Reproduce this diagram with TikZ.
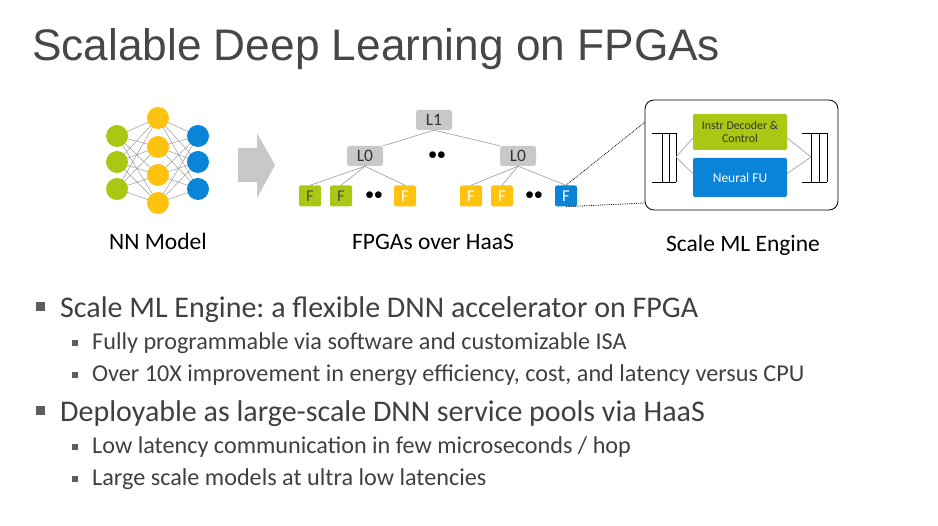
\documentclass[tikz,border=0pt]{standalone}
\usepackage{fontspec}
\setmainfont{Carlito}
\newfontfamily\titlefont{Liberation Sans}
\usetikzlibrary{backgrounds}
\frenchspacing
\definecolor{nngreen}{HTML}{A8C814}
\definecolor{nnyellow}{HTML}{FFC20E}
\definecolor{nnblue}{HTML}{0A84D6}
\definecolor{boxgray}{HTML}{C8C8C8}
\definecolor{textgray}{HTML}{404040}
\definecolor{linegray}{HTML}{9A9A9A}

\begin{document}
\begin{tikzpicture}[
  x=1pt, y=-1pt,
  every node/.style={inner sep=0pt, text=textgray},
  neuron/.style={circle, minimum size=22pt},
  switchbox/.style={rectangle, rounded corners=2.5pt, fill=boxgray, minimum width=36pt, minimum height=20pt, font=\fontsize{17.5}{17.5}\selectfont, text=black!80},
  fpga/.style={rectangle, rounded corners=2pt, minimum width=22pt, minimum height=21pt, font=\fontsize{16.5}{16.5}\selectfont},
  unitbox/.style={rectangle, rounded corners=2pt, minimum width=94pt, align=center, text=white},
  caption/.style={anchor=base, font=\fontsize{23.5}{23.5}\selectfont, text=black},
  dotpair/.style={text=black, font=\fontsize{19}{19}\selectfont},
  bullettext/.style={anchor=base west, text=textgray}
]
\useasboundingbox (0,0) rectangle (938,526);

% title:
\node[anchor=base west, font=\titlefont\fontsize{44.2}{44.2}\selectfont, text=black!72] (title) at (32,61) {Scalable Deep Learning on FPGAs};

% NN model:
\foreach \i/\y in {1/136, 2/162, 3/189} {
  \node[neuron, fill=nngreen] (g\i) at (117,\y) {};
  \node[neuron, fill=nnblue] (b\i) at (198,\y) {};
}
\foreach \i/\y in {1/118, 2/147, 3/175, 4/203}
  \node[neuron, fill=nnyellow] (y\i) at (158,\y) {};
\begin{scope}[on background layer]
\foreach \i in {1,2,3}
  \foreach \j in {1,2,3,4} {
    \draw [linegray, line width=0.5pt] (g\i.center) -- (y\j.center);
    \draw [linegray, line width=0.5pt] (y\j.center) -- (b\i.center);
  }
\end{scope}
\node[caption] (nncap) at (158,250) {NN Model};

% block arrow:
\fill [boxgray] (238,148) -- (257,148) -- (257,133) -- (275,165) -- (257,198) -- (257,182) -- (238,182) -- cycle;

% FPGAs over HaaS:
\node[switchbox] (l1) at (434,120) {L1};
\node[switchbox] (l0a) at (365,156) {L0};
\node[switchbox] (l0b) at (518,156) {L0};
\node[fpga, fill=nngreen, text=black!70] (f1) at (310,196) {F};
\node[fpga, fill=nngreen, text=black!70] (f2) at (341,196) {F};
\node[fpga, fill=nnyellow, text=white] (f3) at (405,196) {F};
\node[fpga, fill=nnyellow, text=white] (f4) at (471,196) {F};
\node[fpga, fill=nnyellow, text=white] (f5) at (502,196) {F};
\node[fpga, fill=nnblue, text=white] (f6) at (566,196) {F};
\node[dotpair] (dots1) at (437,156) {$\bullet\bullet$};
\node[dotpair] (dots2) at (374,196) {$\bullet\bullet$};
\node[dotpair] (dots3) at (534,196) {$\bullet\bullet$};
\draw [linegray, line width=0.6pt] (l1.south) -- (l0a.north east);
\draw [linegray, line width=0.6pt] (l1.south) -- (l0b.north west);
\foreach \f in {f1,f2,f3}
  \draw [linegray, line width=0.6pt] (l0a.south) -- (\f.north);
\foreach \f in {f4,f5,f6}
  \draw [linegray, line width=0.6pt] (l0b.south) -- (\f.north);
\node[caption] (haascap) at (433,250) {FPGAs over HaaS};

% Scale ML Engine:
\node[draw=black, line width=0.8pt, rounded corners=9pt, minimum width=193pt, minimum height=110pt] (eng) at (741.5,155) {};
\node[unitbox, fill=nngreen, minimum height=36pt, font=\fontsize{11.9}{13.5}\selectfont, text=black!80] (dec) at (740,132) {Instr Decoder \&\\Control};
\node[unitbox, fill=nnblue, minimum height=39pt, font=\fontsize{13.5}{13.5}\selectfont] (nfu) at (740,177.5) {Neural FU};
\coordinate (qin) at (676,157);
\coordinate (qout) at (811,157);
\draw [black, line width=0.8pt] (652,133) -- (676,133) (652,182) -- (676,182)
  (662,133) -- (662,182) (669,133) -- (669,182) (676,133) -- (676,182);
\draw [black, line width=0.8pt] (802,133) -- (827,133) (802,182) -- (827,182)
  (811,133) -- (811,182) (819,133) -- (819,182) (827,133) -- (827,182);
\draw [linegray, line width=0.6pt] (qin) -- ([yshift=-6pt]dec.west) (qin) -- ([yshift=4pt]nfu.west);
\draw [linegray, line width=0.6pt] ([yshift=-6pt]dec.east) -- (qout) -- ([yshift=4pt]nfu.east);
\coordinate (zoomtop) at (645,122);
\coordinate (zoombot) at (645,203);
\draw [densely dotted, line width=0.8pt] (f6.north) -- (zoomtop);
\draw [densely dotted, line width=0.8pt] (f6.south) -- (zoombot);
\node[caption] (engcap) at (743,252) {Scale ML Engine};

% bullets:
\tikzset{
  sqa/.style={fill=textgray!85, minimum size=9pt},
  sqb/.style={fill=textgray!85, minimum size=6pt}
}
\node[sqa] (ba1) at (40,307) {};
\node[bullettext, font=\fontsize{30}{30}\selectfont] (ta1) at (60,318) {Scale ML Engine: a flexible DNN accelerator on FPGA};
\node[sqb] (bb1) at (74.5,343) {};
\node[bullettext, font=\fontsize{24.2}{24.2}\selectfont] (tb1) at (92,350) {Fully programmable via software and customizable ISA};
\node[sqb] (bb2) at (74.5,375) {};
\node[bullettext, font=\fontsize{24.2}{24.2}\selectfont] (tb2) at (92,382) {Over 10X improvement in energy efficiency, cost, and latency versus CPU};
\node[sqa] (ba2) at (40,411) {};
\node[bullettext, font=\fontsize{30}{30}\selectfont] (ta2) at (60,422) {Deployable as large-scale DNN service pools via HaaS};
\node[sqb] (bb3) at (74.5,447) {};
\node[bullettext, font=\fontsize{24.2}{24.2}\selectfont] (tb3) at (92,454) {Low latency communication in few microseconds / hop};
\node[sqb] (bb4) at (74.5,479) {};
\node[bullettext, font=\fontsize{24.2}{24.2}\selectfont] (tb4) at (92,486) {Large scale models at ultra low latencies};
\end{tikzpicture}
\end{document}
